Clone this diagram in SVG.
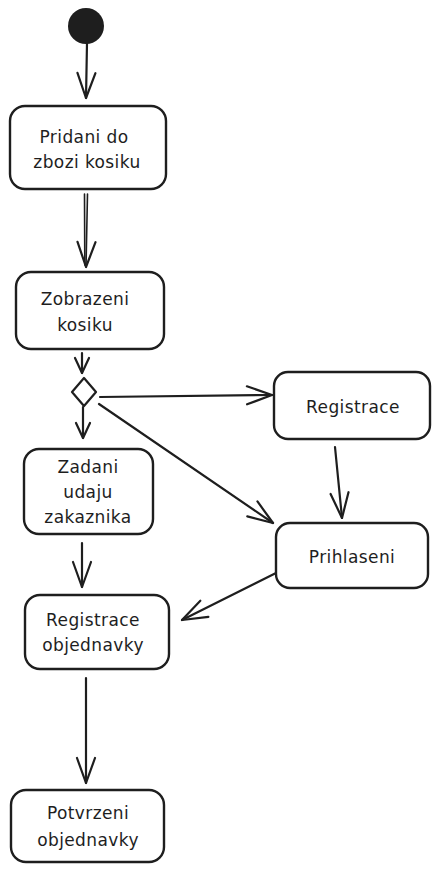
<svg xmlns="http://www.w3.org/2000/svg" width="441" height="871" viewBox="0 0 441 871">
<defs>
<style>
.box{fill:#ffffff;stroke:#1e1e1e;stroke-width:2.4}
.ln{fill:none;stroke:#1e1e1e;stroke-width:2.2;stroke-linecap:round}
.t{font-family:"DejaVu Sans","Liberation Sans",sans-serif;font-size:17px;letter-spacing:0.4px;fill:#1e1e1e;text-anchor:middle}
</style>
<marker id="arr" viewBox="0 0 30 24" markerWidth="30" markerHeight="24" refX="27" refY="12" orient="auto" markerUnits="userSpaceOnUse">
<path d="M2,3 L27,12 L2,21" fill="none" stroke="#1e1e1e" stroke-width="2.2" stroke-linecap="round" stroke-linejoin="round"/>
</marker>
<marker id="arrs" viewBox="0 0 20 18" markerWidth="20" markerHeight="18" refX="17" refY="9" orient="auto" markerUnits="userSpaceOnUse">
<path d="M2,2 L17,9 L2,16" fill="none" stroke="#1e1e1e" stroke-width="2.2" stroke-linecap="round" stroke-linejoin="round"/>
</marker>
</defs>
<rect width="441" height="871" fill="#ffffff"/>
<g id="connectors">
<line class="ln" x1="87" y1="43" x2="86" y2="98" marker-end="url(#arr)"/>
<line class="ln" x1="84.5" y1="194" x2="84.8" y2="265" style="stroke-width:1.6"/>
<line class="ln" x1="87.5" y1="194" x2="86" y2="267" marker-end="url(#arr)" style="stroke-width:1.6"/>
<line class="ln" x1="82" y1="353" x2="82" y2="373" marker-end="url(#arrs)"/>
<line class="ln" x1="100" y1="397" x2="272" y2="395" marker-end="url(#arr)"/>
<line class="ln" x1="99" y1="404" x2="273" y2="523" marker-end="url(#arr)"/>
<line class="ln" x1="83" y1="407" x2="83" y2="438" marker-end="url(#arrs)"/>
<line class="ln" x1="335" y1="447" x2="342" y2="518" marker-end="url(#arr)"/>
<line class="ln" x1="276" y1="573" x2="182" y2="620" marker-end="url(#arr)"/>
<line class="ln" x1="82" y1="543" x2="82" y2="587" marker-end="url(#arr)"/>
<line class="ln" x1="86" y1="678" x2="86" y2="783" marker-end="url(#arr)"/>
</g>
<g id="start">
<circle cx="86" cy="26" r="18" fill="#1e1e1e"/>
</g>
<g id="pridani">
<rect class="box" x="10" y="106" width="156" height="83" rx="15"/>
<text class="t" x="84" y="143">Pridani do</text>
<text class="t" x="87" y="168">zbozi kosiku</text>
</g>
<g id="zobrazeni">
<rect class="box" x="16" y="272" width="148" height="77" rx="15"/>
<text class="t" x="85" y="305">Zobrazeni</text>
<text class="t" x="85" y="331">kosiku</text>
</g>
<g id="decision">
<path d="M84,378 L96,392 L84,406 L72,392 Z" fill="#ffffff" stroke="#1e1e1e" stroke-width="2.2" stroke-linejoin="round"/>
</g>
<g id="registrace">
<rect class="box" x="274" y="372" width="156" height="67" rx="14"/>
<text class="t" x="353" y="413">Registrace</text>
</g>
<g id="zadani">
<rect class="box" x="24" y="449" width="129" height="85" rx="15"/>
<text class="t" x="88" y="473">Zadani</text>
<text class="t" x="88" y="498">udaju</text>
<text class="t" x="88" y="523">zakaznika</text>
</g>
<g id="prihlaseni">
<rect class="box" x="276" y="523" width="152" height="65" rx="14"/>
<text class="t" x="352" y="563">Prihlaseni</text>
</g>
<g id="registrace-objednavky">
<rect class="box" x="25" y="595" width="144" height="74" rx="15"/>
<text class="t" x="93" y="626">Registrace</text>
<text class="t" x="93" y="651">objednavky</text>
</g>
<g id="potvrzeni">
<rect class="box" x="11" y="790" width="153" height="72" rx="15"/>
<text class="t" x="88" y="819">Potvrzeni</text>
<text class="t" x="88" y="846">objednavky</text>
</g>
</svg>
